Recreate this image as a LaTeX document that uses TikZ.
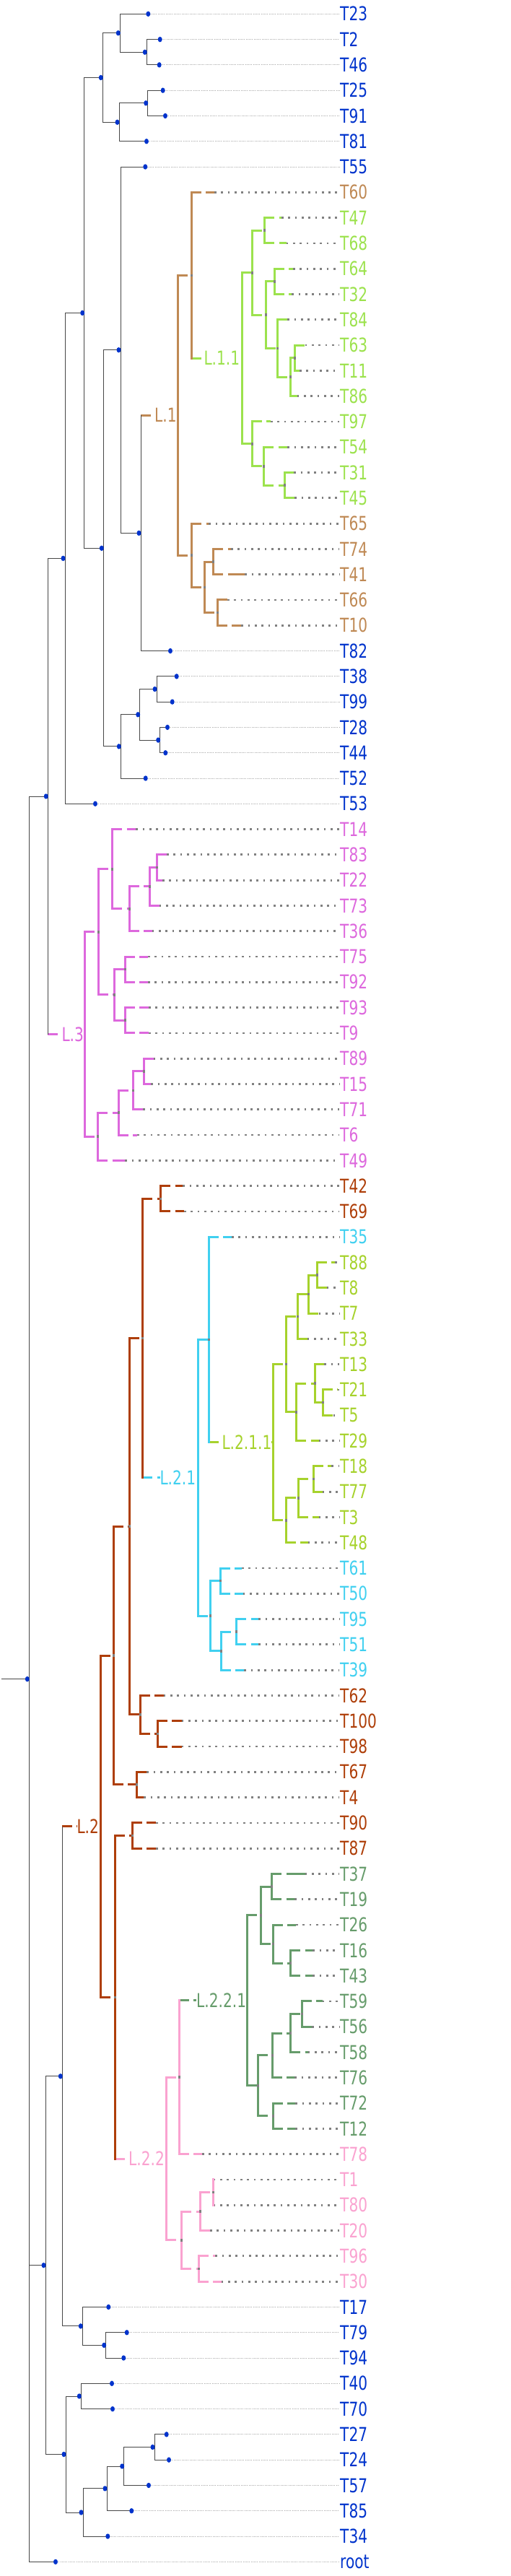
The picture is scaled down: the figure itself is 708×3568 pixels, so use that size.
\documentclass[tikz,border=0pt]{standalone}
\usepackage{fontspec}
\usetikzlibrary{backgrounds}
\newfontfamily\lblfont{DejaVu Sans}[FakeStretch=0.76]
\definecolor{tipblue}{RGB}{0,51,204}
\definecolor{brownL1}{RGB}{191,137,84}
\definecolor{greenL11}{RGB}{156,226,77}
\definecolor{orchidL3}{RGB}{221,104,221}
\definecolor{rustL2}{RGB}{174,62,8}
\definecolor{cyanL21}{RGB}{64,208,240}
\definecolor{limeL211}{RGB}{166,210,44}
\definecolor{pinkL22}{RGB}{250,162,208}
\definecolor{sageL221}{RGB}{102,156,107}
\definecolor{leadgray}{RGB}{128,128,128}

% vertical part in the parent's colour, horizontal part dashed
\newcommand{\cladeedges}[2]{%
  \foreach \pa/\ch in {#2}{%
    \draw[vbranch,#1] (\pa) -- (\pa |- \ch);
    \draw[hbranch,#1] (\pa |- \ch) -- (\ch);
  }}

\begin{document}
\begin{tikzpicture}[x=1pt,y=-1pt,
    thin branch/.style={black!72, line width=0.9pt},
    thin leader/.style={gray!65, line width=0.9pt, dash pattern=on 0.9pt off 1.3pt},
    fat leader/.style={leadgray, line width=2.8pt, dash pattern=on 2.7pt off 6.6pt},
    vbranch/.style={line width=3pt, line cap=rect},
    hbranch/.style={line width=3pt, dash pattern=on 13.5pt off 6.5pt on 400pt off 0pt},
    tiplabel/.style={anchor=west, inner sep=0pt, text height=19.3pt, text depth=0pt,
      font=\lblfont\fontsize{26.5pt}{30pt}\selectfont},
    cladelabel/.style={tiplabel, fill=white}]
  \useasboundingbox (0,0) rectangle (708,3568);

  % inner nodes of the tree
  \foreach \nm/\x/\y in {nA/203.3/72.24, nB/166.3/45.77, nC/204.7/142.82, nD/165/169.28,
      nE/142.3/107.53, nF/116.7/433.42, nH/195/738.41, nI/167/484.72, nJ/143.3/759.31,
      nK/167.3/1033.89, nL/193.7/989.78, nM/217/954.49, nN/221.7/1025.07, nO/90/773.36,
      nP/66.3/1102.96, nQ/40.3/2325.63, nR/63/3137.60, nS/86.3/2875.77, nU/114.3/3221.87,
      nV/146.7/3248.33, nT/91/3399.42, nW/112.3/3318.91, nX/115/3479.93, nY/148/3446.84,
      nZ/171.7/3415.96, nAA/214/3389.50, stem/1.7/2325.63}
    \coordinate (\nm) at (\x,\y);
  \foreach \nm/\x/\y in {L1/246.3/575.26, L1a/265/381.30, L1b/265.7/769.22, L1c/283.7/813.33,
      L1d/295.7/778.04, L1e/301/848.62,
      L11/335/496.27, G1/349.3/377.72, G2/366.7/319.27, G3/368.3/436.16, G4/380/389.85,
      G5/384/482.48, G6/402.7/522.18, G7/408.3/495.72, G8/349.3/614.82, G9/365.7/645.70,
      G10/394.3/672.17,
      L3/117.3/1432.55, M1/136/1290.84, M2/155.7/1203.72, M3/179/1258.86, M4/207.3/1227.98,
      M5/217/1201.52, M6/158.3/1377.97, M7/173/1342.68, M8/173.3/1413.26, M9/135.7/1574.27,
      M10/164.3/1541.18, M11/184/1510.30, M12/199.7/1483.84,
      L2/139/2529.68, B1/157.3/2293.09, B2/179.3/2114.23, B3/197.7/1853.55, B4/222.7/1660.29,
      B5/194.3/2374.91, B6/218.3/2401.37, B7/189.3/2471.96, B8/159/2766.27, B9/183/2542.53,
      L21/274/2046.82, C1/289.3/1855.48, C2/291/2238.16, C3/305/2189.63, C4/306/2286.68,
      C5/327.7/2260.21,
      L211/378.3/1997.75, Y1/396/1889.67, Y2/412/1823.50, Y3/427.7/1792.62, Y4/439.3/1766.16,
      Y5/410.7/1955.84, Y6/436/1916.14, Y7/447.3/1942.61, Y8/396/2105.82, Y9/413.3/2074.94,
      Y10/434/2048.48,
      L22/230/2990.00, P1/248.3/2877.24, P2/251.7/3102.76, P3/277.7/3063.06, P4/295.7/3036.60,
      P5/275/3142.47,
      L221/342.7/2770.81, D1/361/2652.81, D2/376.7/2613.11, D3/378.3/2692.52, D4/402.7/2718.98,
      D5/357.7/2888.82, D6/377.3/2846.91, D7/402.7/2816.03, D8/418.3/2789.56, D9/378.3/2930.72}
    \coordinate (\nm) at (\x,\y);

  % leaves: name/row/tip
  \foreach \nm/\rw/\tx in {T23/1/205.3, T2/2/221.7, T46/3/220.7, T25/4/225.7, T91/5/229,
      T81/6/203, T55/7/201.3, T82/26/236, T38/27/244.7, T99/28/238.7, T28/29/232, T44/30/229.3,
      T52/31/201.7, T53/32/132, T17/91/150.3, T79/92/175.7, T94/93/171.3, T40/94/155,
      T70/95/156, T27/96/230.7, T24/97/234, T57/98/206, T85/99/182.3, T34/100/149.3,
      root/101/77}{
    \pgfmathsetmacro{\yy}{19.3+(\rw-1)*35.29}
    \coordinate (t\nm) at (\tx,\yy);
    \node[tiplabel, text=tipblue] (\nm) at (471,\yy) {\nm};
    \draw[thin leader] (t\nm) -- ([xshift=-1pt]\nm.west);
  }
  \foreach \nm/\rw/\tx/\col in {T60/8/297/brownL1, T65/21/289.3/brownL1, T74/22/320/brownL1,
      T41/23/339.3/brownL1, T66/24/315/brownL1, T10/25/334.3/brownL1,
      T47/9/390/greenL11, T68/10/396.7/greenL11, T64/11/406/greenL11, T32/12/404.3/greenL11,
      T84/13/398.3/greenL11, T63/14/422.7/greenL11, T11/15/415/greenL11, T86/16/411.7/greenL11,
      T97/17/375/greenL11, T54/18/398.3/greenL11, T31/19/407.3/greenL11, T45/20/408.3/greenL11,
      T14/33/188.3/orchidL3, T83/34/231/orchidL3, T22/35/225/orchidL3, T73/36/220.7/orchidL3,
      T36/37/210.7/orchidL3, T75/38/205/orchidL3, T92/39/205/orchidL3, T93/40/206/orchidL3,
      T9/41/206/orchidL3, T89/42/212.7/orchidL3, T15/43/209.3/orchidL3, T71/44/198.3/orchidL3,
      T6/45/190/orchidL3, T49/46/173.3/orchidL3,
      T42/47/253.3/rustL2, T69/48/255/rustL2, T62/67/226.7/rustL2, T100/68/251.7/rustL2,
      T98/69/251.7/rustL2, T67/70/203.3/rustL2, T4/71/199.3/rustL2, T90/72/216/rustL2,
      T87/73/216/rustL2,
      T35/49/321/cyanL21, T61/62/335/cyanL21, T50/63/336.7/cyanL21, T95/64/358.3/cyanL21,
      T51/65/358.3/cyanL21, T39/66/338.3/cyanL21,
      T88/50/464/limeL211, T8/51/452.7/limeL211, T7/52/441.7/limeL211, T33/53/425.7/limeL211,
      T13/54/449.3/limeL211, T21/55/468/limeL211, T5/56/461.7/limeL211, T29/57/441.7/limeL211,
      T18/58/459.3/limeL211, T77/59/446.7/limeL211, T3/60/441.7/limeL211, T48/61/426.7/limeL211,
      T78/85/280/pinkL22, T1/86/295.7/pinkL22, T80/87/295.7/pinkL22, T20/88/291/pinkL22,
      T96/89/298.3/pinkL22, T30/90/306.7/pinkL22,
      T37/74/422.7/sageL221, T19/75/408.3/sageL221, T26/76/410/sageL221, T16/77/433.3/sageL221,
      T43/78/433.3/sageL221, T59/79/446.7/sageL221, T56/80/432.3/sageL221, T58/81/426.7/sageL221,
      T76/82/408.3/sageL221, T72/83/409.3/sageL221, T12/84/409.3/sageL221}{
    \pgfmathsetmacro{\yy}{19.3+(\rw-1)*35.29}
    \coordinate (t\nm) at (\tx,\yy);
    \node[tiplabel, text=\col] (\nm) at (471,\yy) {\nm};
    \draw[fat leader] (t\nm) -- ([xshift=-1pt]\nm.west);
  }

  % clade labels
  \node[cladelabel, text=brownL1] (L1lab) at (214,575.26) {L.1};
  \node[cladelabel, text=greenL11] (L11lab) at (282.3,496.27) {L.1.1};
  \node[cladelabel, text=orchidL3] (L3lab) at (85.3,1432.55) {L.3};
  \node[cladelabel, text=rustL2] (L2lab) at (106.3,2529.68) {L.2};
  \node[cladelabel, text=cyanL21] (L21lab) at (221.3,2046.82) {L.2.1};
  \node[cladelabel, text=limeL211] (L211lab) at (307.3,1997.75) {L.2.1.1};
  \node[cladelabel, text=pinkL22] (L22lab) at (178,2990) {L.2.2};
  \node[cladelabel, text=sageL221] (L221lab) at (272,2770.81) {L.2.2.1};
  \begin{scope}[on background layer]
    \foreach \pa/\lb/\col in {nH/L1lab/brownL1, L1a/L11lab/greenL11, nP/L3lab/orchidL3,
        nS/L2lab/rustL2, B3/L21lab/cyanL21, C1/L211lab/limeL211, B8/L22lab/pinkL22,
        P1/L221lab/sageL221}
      \draw[hbranch, \col] (\pa |- \lb) -- (\lb.east);
  \end{scope}

  % backbone
  \draw[thin branch] (stem) -- (nQ);
  \foreach \pa/\ch in {nB/tT23, nB/nA, nA/tT2, nA/tT46, nC/tT25, nC/tT91, nD/nC, nD/tT81,
      nE/nB, nE/nD, nF/nE, nF/nJ, nJ/nI, nJ/nK, nI/tT55, nI/nH, nH/tT82, nK/nL, nK/tT52,
      nL/nM, nL/nN, nM/tT38, nM/tT99, nN/tT28, nN/tT44, nO/nF, nO/tT53, nP/nO, nQ/nP,
      nQ/nR, nQ/troot, nR/nS, nR/nT, nS/nU, nU/tT17, nU/nV, nV/tT79, nV/tT94, nT/nW,
      nT/nX, nW/tT40, nW/tT70, nX/nY, nX/tT34, nY/nZ, nY/tT85, nZ/nAA, nZ/tT57,
      nAA/tT27, nAA/tT24}
    \draw[thin branch] (\pa) |- (\ch);
  \draw[thin branch] (nH) -- (nH |- L1lab);
  \draw[thin branch] (nP) -- (nP |- L3lab);
  \draw[thin branch] (nS) -- (nS |- L2lab);

  % coloured clades
  \cladeedges{brownL1}{L1/L1a, L1/L1b, L1a/tT60, L1b/tT65, L1b/L1c, L1c/L1d, L1c/L1e,
    L1d/tT74, L1d/tT41, L1e/tT66, L1e/tT10}
  \draw[vbranch, brownL1] (L1a) -- (L1a |- L11lab);
  \cladeedges{greenL11}{L11/G1, L11/G8, G1/G2, G1/G3, G2/tT47, G2/tT68, G3/G4, G3/G5,
    G4/tT64, G4/tT32, G5/tT84, G5/G6, G6/G7, G6/tT86, G7/tT63, G7/tT11, G8/tT97, G8/G9,
    G9/tT54, G9/G10, G10/tT31, G10/tT45}
  \cladeedges{orchidL3}{L3/M1, L3/M9, M1/M2, M1/M6, M2/tT14, M2/M3, M3/M4, M3/tT36,
    M4/M5, M4/tT73, M5/tT83, M5/tT22, M6/M7, M6/M8, M7/tT75, M7/tT92, M8/tT93, M8/tT9,
    M9/M10, M9/tT49, M10/M11, M10/tT6, M11/M12, M11/tT71, M12/tT89, M12/tT15}
  \cladeedges{rustL2}{L2/B1, L2/B8, B1/B2, B1/B7, B2/B3, B2/B5, B3/B4, B4/tT42, B4/tT69,
    B5/tT62, B5/B6, B6/tT100, B6/tT98, B7/tT67, B7/tT4, B8/B9, B9/tT90, B9/tT87}
  \draw[vbranch, rustL2] (B3) -- (B3 |- L21lab);
  \draw[vbranch, rustL2] (B8) -- (B8 |- L22lab);
  \cladeedges{cyanL21}{L21/C1, L21/C2, C1/tT35, C2/C3, C2/C4, C3/tT61, C3/tT50, C4/C5,
    C4/tT39, C5/tT95, C5/tT51}
  \draw[vbranch, cyanL21] (C1) -- (C1 |- L211lab);
  \cladeedges{limeL211}{L211/Y1, L211/Y8, Y1/Y2, Y1/Y5, Y2/Y3, Y2/tT33, Y3/Y4, Y3/tT7,
    Y4/tT88, Y4/tT8, Y5/Y6, Y5/tT29, Y6/tT13, Y6/Y7, Y7/tT21, Y7/tT5, Y8/Y9, Y8/tT48,
    Y9/Y10, Y9/tT3, Y10/tT18, Y10/tT77}
  \cladeedges{pinkL22}{L22/P1, L22/P2, P1/tT78, P2/P3, P2/P5, P3/P4, P3/tT20, P4/tT1,
    P4/tT80, P5/tT96, P5/tT30}
  \draw[vbranch, pinkL22] (P1) -- (P1 |- L221lab);
  \cladeedges{sageL221}{L221/D1, L221/D5, D1/D2, D1/D3, D2/tT37, D2/tT19, D3/tT26, D3/D4,
    D4/tT16, D4/tT43, D5/D6, D5/D9, D6/D7, D6/tT76, D7/D8, D7/tT58, D8/tT59, D8/tT56,
    D9/tT72, D9/tT12}

  % node marks
  \foreach \m in {L1a, L1b, L1c, L1d, L1e, G1, G2, G3, G4, G5, G6, G7, G8, G9, G10,
      M1, M2, M3, M4, M5, M6, M7, M8, M9, M10, M11, M12, B1, B2, B3, B4, B5, B6, B7, B8, B9,
      C1, C2, C3, C4, C5, Y1, Y2, Y3, Y4, Y5, Y6, Y7, Y8, Y9, Y10, P1, P2, P3, P4, P5,
      D1, D2, D3, D4, D5, D6, D7, D8, D9}
    \fill[leadgray] (\m) +(-1.5,-1.8) rectangle +(1.5,1.8);
  \foreach \d in {nA, nB, nC, nD, nE, nF, nH, nI, nJ, nK, nL, nM, nN, nO, nP, nQ, nR, nS,
      nU, nV, nT, nW, nX, nY, nZ, nAA}
    \fill[tipblue] ([xshift=-2.5pt]\d) ellipse [x radius=3pt, y radius=3.7pt];
  \foreach \d in {T23, T2, T46, T25, T91, T81, T55, T82, T38, T99, T28, T44, T52, T53,
      T17, T79, T94, T40, T70, T27, T24, T57, T85, T34, root}
    \fill[tipblue] (t\d) ellipse [x radius=3pt, y radius=3.7pt];
\end{tikzpicture}
\end{document}
